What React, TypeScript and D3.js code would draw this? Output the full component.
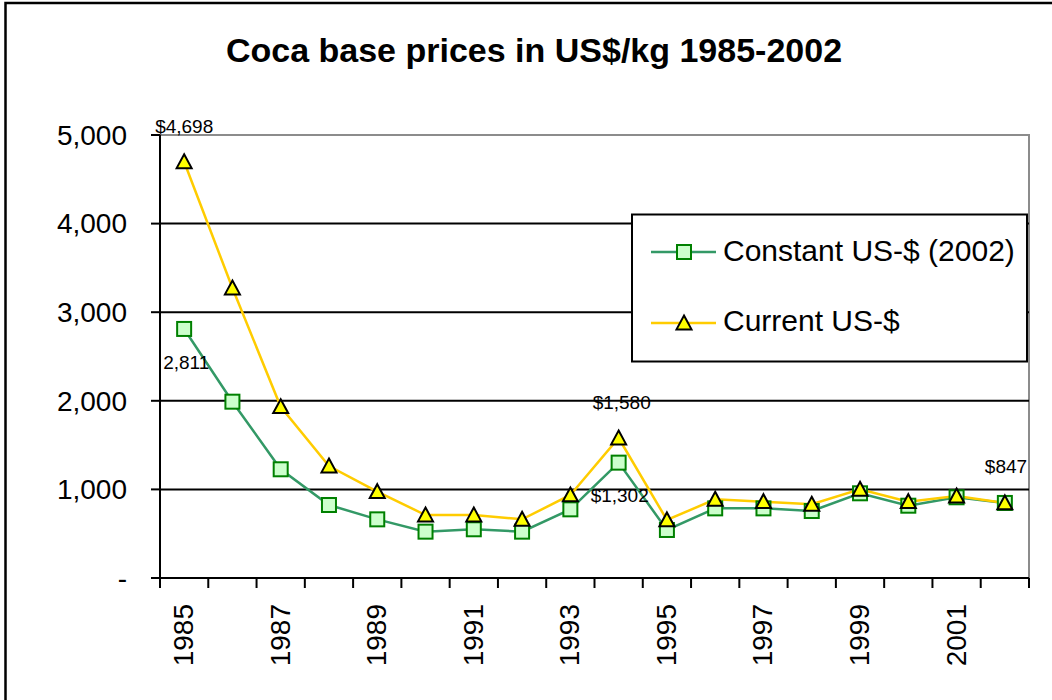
import React from "react";
import * as d3 from "d3";

const years = [1985,1986,1987,1988,1989,1990,1991,1992,1993,1994,1995,1996,1997,1998,1999,2000,2001,2002];
const constantUSD = [2811,1990,1227,824,662,523,550,523,775,1302,542,786,786,756,956,816,911,847];
const currentUSD = [4698,3273,1933,1264,974,711,711,662,937,1580,655,888,861,832,1001,861,925,847];
const yTicks = [0,1000,2000,3000,4000,5000];
const xLabelYears = [1985,1987,1989,1991,1993,1995,1997,1999,2001];
const seriesNames = ["Constant US-$ (2002)", "Current US-$"];
const pointLabels = [
  { series: "current", year: 1985, text: "$4,698", dx: -29, dy: -29 },
  { series: "constant", year: 1985, text: "2,811", dx: -21, dy: 40 },
  { series: "current", year: 1994, text: "$1,580", dx: -26, dy: -29 },
  { series: "constant", year: 1994, text: "$1,302", dx: -28, dy: 39 },
  { series: "current", year: 2002, text: "$847", dx: -20, dy: -30 },
];

const FONT = "Liberation Sans, Arial, sans-serif";

export default function App() {
  const left = 160, right = 1029, top = 135, bottom = 578;
  const x = d3.scaleBand<number>().domain(years).range([left, right]);
  const y = d3.scaleLinear().domain([0, 5000]).range([bottom, top]);
  const cx = (yr: number) => (x(yr) as number) + x.bandwidth() / 2;
  const line = d3.line<number>().x((_, i) => cx(years[i])).y((v) => y(v));
  const tri = (px: number, py: number, s = 7.5) =>
    `M${px},${py - s}L${px + s},${py + s * 0.85}L${px - s},${py + s * 0.85}Z`;
  const sq = 14;

  return (
    <svg width={1052} height={700} style={{ position: "absolute", left: 0, top: 0, background: "#fff" }}>
      <rect x={0} y={0} width={1052} height={700} fill="#fff" />
      <rect x={5.5} y={3} width={1100} height={750} fill="none" stroke="#000" strokeWidth={2.5} />
      <text x={534} y={62} textAnchor="middle" fontFamily={FONT} fontWeight="bold" fontSize={34}>
        Coca base prices in US$/kg 1985-2002
      </text>
      {/* plot area border */}
      <rect x={left} y={top} width={right - left} height={bottom - top} fill="none" stroke="#8c8c8c" strokeWidth={2} />
      {/* gridlines */}
      {yTicks.filter((t) => t > 0 && t < 5000).map((t) => (
        <line key={t} x1={left} x2={right} y1={y(t)} y2={y(t)} stroke="#000" strokeWidth={2} />
      ))}
      {/* y axis */}
      <line x1={left} x2={left} y1={top} y2={bottom} stroke="#000" strokeWidth={2} />
      {yTicks.map((t) => (
        <g key={t}>
          <line x1={left - 9} x2={left} y1={y(t)} y2={y(t)} stroke="#000" strokeWidth={2} />
          <text x={127} y={y(t)} dy="0.35em" textAnchor="end" fontFamily={FONT} fontSize={28}>
            {t === 0 ? "-" : d3.format(",")(t)}
          </text>
        </g>
      ))}
      {/* x axis */}
      <line x1={left} x2={right} y1={bottom} y2={bottom} stroke="#000" strokeWidth={2} />
      {years.concat([2003]).map((yr, i) => {
        const xx = i < years.length ? (x(yr) as number) : right;
        return <line key={yr} x1={xx} x2={xx} y1={bottom} y2={bottom + 10} stroke="#000" strokeWidth={2} />;
      })}
      {xLabelYears.map((yr) => (
        <text key={yr} transform={`translate(${cx(yr) + 9},${604}) rotate(-90)`} textAnchor="end"
          fontFamily={FONT} fontSize={28}>
          {yr}
        </text>
      ))}
      {/* lines */}
      <path d={line(constantUSD) || ""} fill="none" stroke="#339966" strokeWidth={2.5} />
      <path d={line(currentUSD) || ""} fill="none" stroke="#FFCC00" strokeWidth={2.5} />
      {constantUSD.map((v, i) => (
        <rect key={i} x={cx(years[i]) - sq / 2} y={y(v) - sq / 2} width={sq} height={sq}
          fill="#CCFFCC" stroke="#008000" strokeWidth={2} />
      ))}
      {currentUSD.map((v, i) => (
        <path key={i} d={tri(cx(years[i]), y(v))} fill="#FFFF00" stroke="#000" strokeWidth={2} />
      ))}
      {pointLabels.map((p, i) => {
        const idx = years.indexOf(p.year);
        const v = p.series === "current" ? currentUSD[idx] : constantUSD[idx];
        return (
          <text key={i} x={cx(p.year) + p.dx} y={y(v) + p.dy} fontFamily={FONT} fontSize={19}>
            {p.text}
          </text>
        );
      })}
      {/* legend */}
      <rect x={632} y={214.5} width={395} height={147} fill="#fff" stroke="#000" strokeWidth={2} />
      <g>
        <line x1={651} x2={716} y1={252} y2={252} stroke="#339966" strokeWidth={2.5} />
        <rect x={684 - sq / 2} y={252 - sq / 2} width={sq} height={sq} fill="#CCFFCC" stroke="#008000" strokeWidth={2} />
        <text x={723} y={250} dy="0.35em" fontFamily={FONT} fontSize={30}>{seriesNames[0]}</text>
        <line x1={651} x2={716} y1={323} y2={323} stroke="#FFCC00" strokeWidth={2.5} />
        <path d={tri(684, 323)} fill="#FFFF00" stroke="#000" strokeWidth={2} />
        <text x={723} y={320} dy="0.35em" fontFamily={FONT} fontSize={30}>{seriesNames[1]}</text>
      </g>
    </svg>
  );
}
